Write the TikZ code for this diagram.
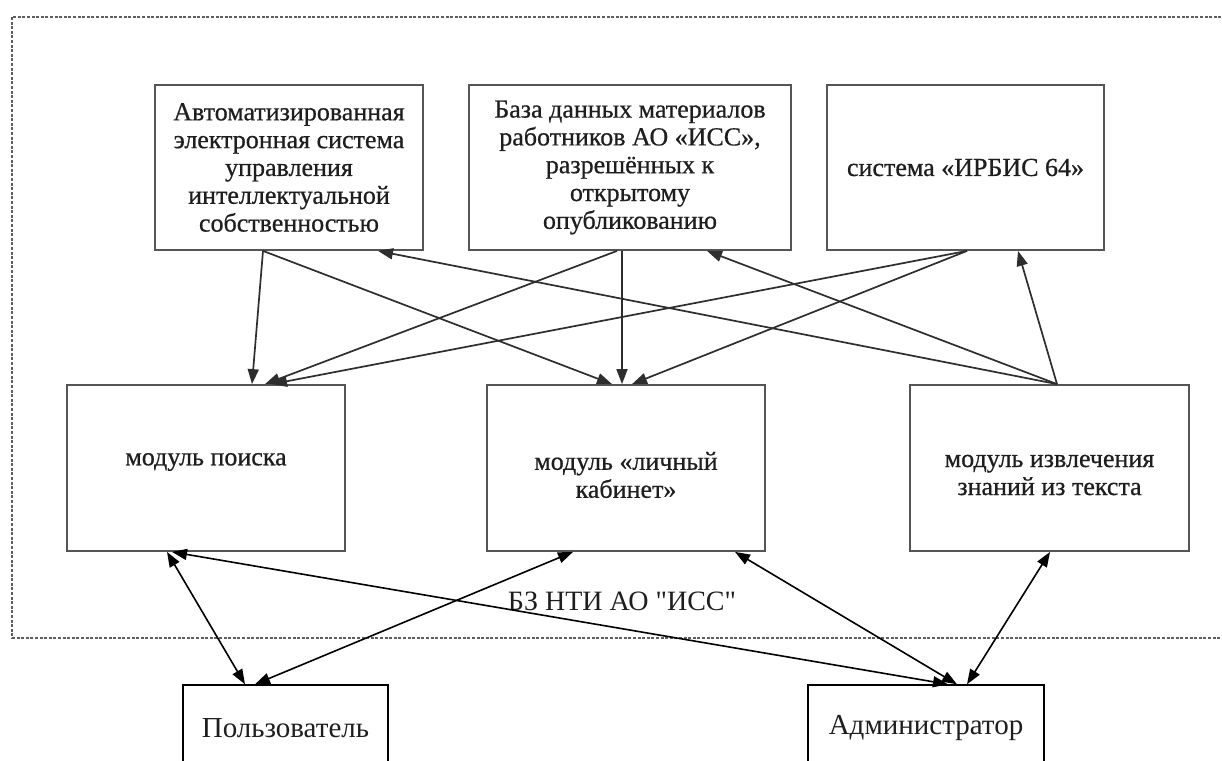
\documentclass[tikz,border=0pt]{standalone}
\usepackage{fontspec}
\setmainfont{Liberation Serif}
\newfontfamily\boxfont[FakeBold=0.6]{Liberation Serif}
\newfontfamily\lblfont[Ligatures=TeXOff]{Liberation Serif}
\usetikzlibrary{arrows.meta}
\definecolor{boxgray}{HTML}{555555}
\definecolor{linegray}{HTML}{2E2E2E}
\definecolor{textdark}{HTML}{1E1E1E}
\definecolor{dashgray}{HTML}{5E5E5E}
\begin{document}
\begin{tikzpicture}[x=1pt,y=-1pt,
  box/.style={draw=boxgray, line width=1.8pt, align=center, inner sep=0pt,
    font=\boxfont\fontsize{26}{27.8}\selectfont, text=textdark, minimum height=165pt},
  boxtext/.style={align=center, inner sep=0pt, font=\boxfont\fontsize{26}{28}\selectfont, text=textdark},
  actor/.style={draw=black, line width=1.4pt, align=center, inner sep=0pt,
    font=\fontsize{29}{32}\selectfont, text=textdark, minimum height=86pt},
  arr/.style={draw=linegray, line width=1.7pt, -{Triangle[length=15pt,width=11pt]}},
  biarr/.style={draw=black, line width=1.6pt, {Triangle[length=15pt,width=11pt]}-{Triangle[length=15pt,width=11pt]}},
  lbl/.style={font=\lblfont\fontsize{28}{30}\selectfont, text=textdark, inner sep=0pt},
  frame/.style={draw=dashgray, line width=2.4pt, dash pattern=on 3pt off 1.6pt}
]
\useasboundingbox (0,0) rectangle (1222,760);
\clip (0,0) rectangle (1222,760);
\fill[white] (0,0) rectangle (1222,760);

\draw[frame] (12,17) rectangle (1240,638);

% top row
\node[box, minimum width=268pt] (A) at (289,167.5)
  {Автоматизированная\\электронная система\\управления\\интеллектуальной\\собственностью};
\node[box, minimum width=322pt] (B) at (630,167.5)
  {База данных материалов\\работников АО «ИСС»,\\разрешённых к\\открытому\\опубликованию};
\node[box, minimum width=277pt] (C) at (965.5,167.5)
  {система «ИРБИС 64»};

% middle row
\node[box, minimum width=278pt, minimum height=166pt] (D) at (206,468) {};
\node[boxtext] (Dt) at (206,462) {модуль поиска};
\node[box, minimum width=278pt, minimum height=166pt] (E) at (626,468) {};
\node[boxtext] (Et) at (626,475) {модуль «личный\\кабинет»};
\node[box, minimum width=279pt, minimum height=166pt] (F) at (1049.5,468) {};
\node[boxtext] (Ft) at (1049.5,475) {модуль извлечения\\знаний из текста};

% actors
\node[actor, minimum width=205pt] (U) at (285.5,728) {Пользователь};
\node[actor, minimum width=236pt] (M) at (926,728) {Администратор};

\node[lbl] (bz) at (622,601) {БЗ НТИ АО "ИСС"};

% top connectors
\draw[arr] ([xshift=-26pt]A.south) -- ([xshift=46pt]D.north);
\draw[arr] ([xshift=-26pt]A.south) -- ([xshift=-14pt]E.north);
\draw[arr] ([xshift=-13pt]B.south) -- ([xshift=59pt]D.north);
\draw[arr] ([xshift=-8pt]B.south) -- ([xshift=-4pt]E.north);
\draw[arr] ([xshift=1.5pt]C.south) -- ([xshift=66pt]D.north);
\draw[arr] ([xshift=1.5pt]C.south) -- ([xshift=6pt]E.north);
\draw[arr] ([xshift=7.5pt]F.north) -- ([xshift=89pt]A.south);
\draw[arr] ([xshift=7.5pt]F.north) -- ([xshift=77pt]B.south);
\draw[arr] ([xshift=7.5pt]F.north) -- ([xshift=52.5pt]C.south);

% bottom connectors
\draw[biarr] ([xshift=-39pt]D.south) -- ([xshift=-40.5pt]U.north);
\draw[biarr] ([xshift=-53pt]E.south) -- ([xshift=-30.5pt]U.north);
\draw[biarr] ([xshift=-34pt]D.south) -- ([xshift=22pt]M.north);
\draw[biarr] ([xshift=109pt]E.south) -- ([xshift=31pt]M.north);
\draw[biarr] ([xshift=0.5pt]F.south) -- ([xshift=41pt]M.north);
\end{tikzpicture}
\end{document}
